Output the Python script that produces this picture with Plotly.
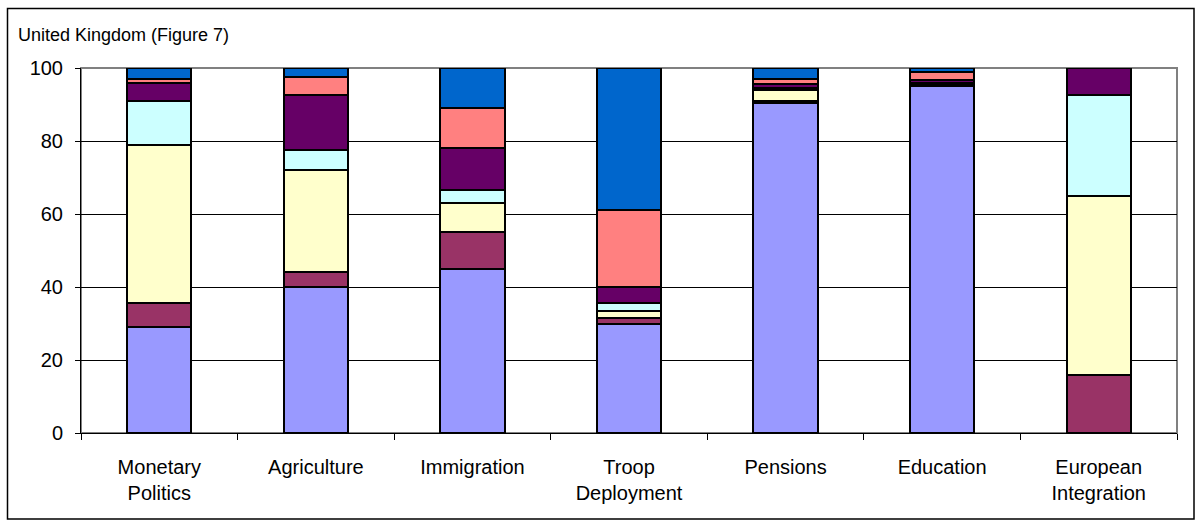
import plotly.graph_objects as go

categories = ["Monetary<br>Politics", "Agriculture", "Immigration", "Troop<br>Deployment",
              "Pensions", "Education", "European<br>Integration"]

series_names = ["Series 1", "Series 2", "Series 3", "Series 4", "Series 5", "Series 6", "Series 7"]
series_colors = ["#9999FF", "#993366", "#FFFFCC", "#CCFFFF", "#660066", "#FF8080", "#0066CC"]

s1 = [29.0, 40.0, 45.0, 30.0, 90.5, 95.0, 0.0]
s2 = [6.5, 4.0, 10.0, 1.5, 0.5, 0.5, 16.0]
s3 = [43.5, 28.0, 8.0, 2.0, 3.0, 0.3, 49.0]
s4 = [12.0, 5.5, 3.5, 2.0, 0.5, 0.2, 27.5]
s5 = [5.0, 15.0, 11.5, 4.5, 1.0, 0.8, 7.5]
s6 = [1.0, 5.0, 11.0, 21.0, 1.5, 2.0, 0.0]
s7 = [3.0, 2.5, 11.0, 39.0, 3.0, 1.2, 0.0]

series_values = [s1, s2, s3, s4, s5, s6, s7]

y_ticks = [0, 20, 40, 60, 80, 100]
title_text = "United Kingdom (Figure 7)"

FONT = "Liberation Sans, Arial, sans-serif"

fig = go.Figure()
for name, color, vals in zip(series_names, series_colors, series_values):
    fig.add_trace(go.Bar(
        x=categories, y=vals, name=name,
        marker=dict(color=color, line=dict(color="#000000", width=2)),
        hoverinfo="x+y+name",
    ))

W, H = 1197, 522
L, R, T, B = 81, 20, 68, 89
pw, ph = W - L - R, H - T - B

def px_x(p):
    return (p - L) / pw

def px_y(p):
    return (H - B - p) / ph

fig.update_layout(
    width=W, height=H,
    margin=dict(l=L, r=R, t=T, b=B),
    barmode="stack",
    bargap=0.59,
    showlegend=False,
    paper_bgcolor="#FFFFFF",
    plot_bgcolor="#FFFFFF",
    font=dict(family=FONT, size=20, color="#000000"),
    xaxis=dict(
        type="category",
        showline=True, linecolor="#000000", linewidth=1,
        ticks="outside", ticklen=6, tickcolor="#000000",
        tickson="boundaries",
        showgrid=False,
        tickfont=dict(size=20, family=FONT),
        ticklabelstandoff=16,
    ),
    yaxis=dict(
        range=[0, 100],
        tickvals=y_ticks,
        showline=True, linecolor="#000000", linewidth=1,
        ticks="outside", ticklen=5, tickcolor="#000000",
        showgrid=True, gridcolor="#000000", gridwidth=1,
        zeroline=False,
        tickfont=dict(size=20, family=FONT),
        ticklabelstandoff=8,
    ),
    shapes=[
        dict(type="rect", xref="paper", yref="paper",
             x0=0, x1=1, y0=0, y1=1,
             line=dict(color="#808080", width=2), layer="below"),
        dict(type="rect", xref="paper", yref="paper",
             x0=px_x(7.5), x1=px_x(1194), y0=px_y(519), y1=px_y(8.5),
             line=dict(color="#000000", width=1.5), fillcolor="rgba(0,0,0,0)",
             layer="below"),
    ],
    annotations=[
        dict(text=title_text, xref="paper", yref="paper",
             x=px_x(16), y=px_y(35), xanchor="left", yanchor="middle",
             showarrow=False, font=dict(size=18, family=FONT, color="#000000")),
    ],
)

fig.write_html("out.html")
